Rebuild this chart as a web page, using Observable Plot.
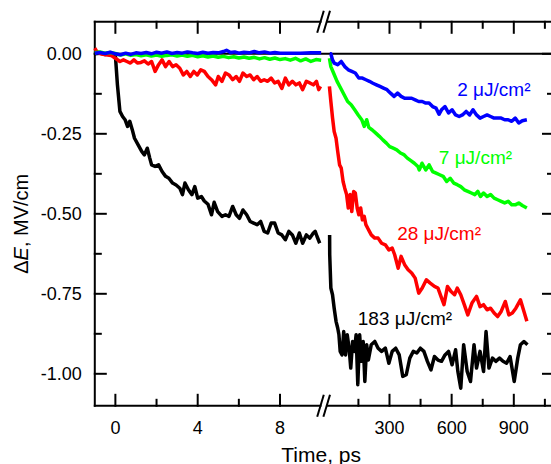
<!DOCTYPE html>
<html><head><meta charset="utf-8">
<script src="https://cdn.jsdelivr.net/npm/d3@7"></script>
<script src="https://cdn.jsdelivr.net/npm/@observablehq/plot@0.6"></script>
<style>body{margin:0;background:#fff}</style>
</head><body><div id="chart"></div>
<script>
// ---- series (fluence labels, colours) ----
const seriesNames = ["183", "28", "7", "2"];
const seriesColors = ["#000000", "#ff0000", "#00ff00", "#0000ff"];
const labelText = ["183 μJ/cm²", "28 μJ/cm²", "7 μJ/cm²", "2 μJ/cm²"];
const labelT = [147, 337, 538, 627];          // ps, right segment
const labelV = [-0.849, -0.583, -0.344, -0.1334];

// ---- left segment (ps, linear 0..10) [t, ΔE] ----
const blackLeft = [[-1,0],[-0.75,0.002],[-0.5,-0.002],[-0.25,0.001],[0,-0.005],[0.1,-0.097],[0.22,-0.18],[0.35,-0.196],[0.47,-0.206],[0.59,-0.227],[0.7,-0.211],[0.82,-0.237],[0.93,-0.264],[1.1,-0.284],[1.28,-0.305],[1.41,-0.316],[1.55,-0.295],[1.67,-0.326],[1.76,-0.347],[1.93,-0.352],[2.1,-0.347],[2.27,-0.368],[2.44,-0.383],[2.6,-0.389],[2.78,-0.404],[2.95,-0.41],[3.13,-0.42],[3.26,-0.44],[3.38,-0.404],[3.55,-0.425],[3.72,-0.44],[3.86,-0.415],[4.0,-0.451],[4.18,-0.446],[4.32,-0.46],[4.5,-0.47],[4.67,-0.503],[4.8,-0.464],[4.97,-0.493],[5.18,-0.508],[5.35,-0.503],[5.52,-0.508],[5.7,-0.477],[5.87,-0.503],[6.03,-0.514],[6.2,-0.488],[6.38,-0.503],[6.55,-0.524],[6.72,-0.529],[6.89,-0.534],[7.06,-0.524],[7.23,-0.555],[7.4,-0.56],[7.57,-0.529],[7.74,-0.529],[7.91,-0.56],[8.09,-0.566],[8.26,-0.581],[8.43,-0.555],[8.6,-0.566],[8.77,-0.592],[8.94,-0.56],[9.1,-0.592],[9.28,-0.566],[9.45,-0.576],[9.62,-0.56],[9.71,-0.555],[9.8,-0.571],[9.93,-0.592]];
const redLeft = [[-1,0.018],[-0.9,0.007],[-0.72,0],[-0.47,-0.003],[-0.21,-0.005],[0,-0.014],[0.22,-0.024],[0.39,-0.019],[0.56,-0.024],[0.73,-0.029],[0.9,-0.019],[1.07,-0.029],[1.24,-0.027],[1.41,-0.022],[1.59,-0.032],[1.76,-0.024],[1.93,-0.055],[2.1,-0.034],[2.27,-0.019],[2.44,-0.04],[2.61,-0.024],[2.78,-0.04],[2.95,-0.034],[3.13,-0.045],[3.3,-0.066],[3.47,-0.055],[3.64,-0.071],[3.81,-0.055],[3.98,-0.066],[4.15,-0.05],[4.32,-0.055],[4.5,-0.071],[4.67,-0.081],[4.87,-0.097],[5.0,-0.071],[5.18,-0.086],[5.35,-0.06],[5.52,-0.066],[5.7,-0.081],[5.87,-0.071],[6.03,-0.086],[6.2,-0.06],[6.38,-0.071],[6.55,-0.066],[6.72,-0.081],[6.89,-0.071],[7.06,-0.086],[7.23,-0.081],[7.4,-0.086],[7.57,-0.076],[7.74,-0.091],[7.91,-0.086],[8.09,-0.108],[8.26,-0.076],[8.43,-0.097],[8.6,-0.086],[8.77,-0.097],[8.94,-0.091],[9.1,-0.112],[9.28,-0.086],[9.45,-0.091],[9.62,-0.097],[9.77,-0.086],[9.88,-0.112],[9.97,-0.102]];
const greenLeft = [[-1,0.003],[-0.75,0.006],[-0.5,0.002],[-0.25,0.004],[0,0.001],[0.25,-0.004],[0.5,0],[0.75,-0.005],[1,-0.002],[1.25,-0.006],[1.5,-0.003],[1.75,-0.007],[2,-0.004],[2.25,-0.008],[2.5,-0.005],[2.75,-0.003],[3,-0.007],[3.25,-0.004],[3.5,-0.008],[3.75,-0.005],[4,-0.009],[4.25,-0.006],[4.5,-0.01],[4.75,-0.007],[5,-0.011],[5.25,-0.008],[5.5,-0.012],[5.75,-0.009],[6,-0.013],[6.25,-0.01],[6.5,-0.014],[6.75,-0.011],[7,-0.016],[7.25,-0.012],[7.5,-0.017],[7.75,-0.013],[8,-0.018],[8.25,-0.015],[8.5,-0.02],[8.75,-0.014],[9,-0.022],[9.25,-0.016],[9.5,-0.024],[9.75,-0.018],[10,-0.02]];
const blueLeft = [[-1,0.002],[-0.75,0.004],[-0.5,0.001],[-0.25,0.005],[0,0],[0.25,-0.003],[0.5,0.002],[0.75,-0.002],[1,0.003],[1.25,0.001],[1.5,0.004],[1.75,0],[2,0.005],[2.25,0.002],[2.5,0.006],[2.75,0.001],[3,0.004],[3.25,0.002],[3.5,0.006],[3.75,0.003],[4,0.001],[4.25,0.005],[4.5,0.002],[4.75,0.004],[5,0.003],[5.25,0.007],[5.4,0.011],[5.6,0.004],[5.8,0.006],[6,0.002],[6.25,0.005],[6.5,0.003],[6.75,0.007],[7,0.003],[7.25,0.006],[7.5,0.002],[7.75,0.004],[8,0.002],[8.5,0.002],[9,0.002],[9.5,0.003],[10,0.003]];

// ---- right segment (ps, compressed 0..1000) [t, ΔE] ----
const blackRight = [[11,-0.566],[11.5,-0.628],[17,-0.732],[25,-0.753],[33,-0.795],[42,-0.836],[50,-0.857],[56,-0.878],[62,-0.93],[71,-0.941],[79,-0.868],[88,-0.941],[96,-0.878],[105,-0.92],[113,-0.982],[122,-0.899],[130,-0.93],[139,-0.878],[147,-1.034],[156,-0.878],[164,-0.961],[173,-0.899],[181,-1.024],[190,-0.909],[198,-0.957],[212,-0.909],[229,-0.899],[245,-0.92],[262,-0.93],[280,-0.92],[297,-0.967],[313,-0.93],[330,-0.92],[347,-0.941],[364,-1.008],[381,-1.003],[398,-0.951],[415,-0.93],[432,-0.935],[449,-0.92],[466,-0.93],[483,-0.961],[500,-0.988],[517,-0.946],[534,-0.957],[551,-0.961],[568,-0.941],[585,-0.93],[602,-0.972],[619,-0.925],[630,-0.993],[644,-1.045],[658,-0.909],[675,-0.993],[691,-1.024],[708,-0.909],[720,-0.982],[737,-0.93],[754,-0.993],[766,-0.868],[780,-0.982],[797,-0.951],[813,-0.961],[831,-0.951],[848,-0.961],[865,-0.967],[882,-0.946],[902,-1.024],[919,-0.951],[932,-0.909],[949,-0.899],[966,-0.909]];
const redRight = [[10,-0.102],[17,-0.149],[25,-0.2],[33,-0.243],[42,-0.264],[50,-0.305],[59,-0.347],[67,-0.357],[76,-0.399],[84,-0.42],[93,-0.44],[101,-0.482],[110,-0.44],[118,-0.493],[127,-0.43],[135,-0.435],[144,-0.482],[152,-0.503],[161,-0.482],[169,-0.519],[178,-0.508],[186,-0.534],[195,-0.545],[203,-0.555],[212,-0.566],[229,-0.576],[245,-0.576],[262,-0.592],[280,-0.597],[297,-0.613],[313,-0.607],[325,-0.628],[342,-0.67],[356,-0.633],[373,-0.659],[390,-0.675],[407,-0.685],[424,-0.701],[441,-0.748],[458,-0.732],[478,-0.706],[495,-0.716],[517,-0.727],[534,-0.732],[551,-0.763],[563,-0.784],[580,-0.727],[597,-0.743],[614,-0.753],[627,-0.732],[644,-0.753],[661,-0.784],[678,-0.816],[698,-0.779],[720,-0.758],[737,-0.79],[754,-0.784],[771,-0.8],[788,-0.795],[805,-0.81],[822,-0.821],[839,-0.805],[859,-0.774],[876,-0.816],[893,-0.81],[910,-0.795],[932,-0.769],[949,-0.805],[963,-0.836]];
const greenRight = [[10,-0.014],[17,-0.04],[30,-0.06],[47,-0.086],[64,-0.107],[81,-0.128],[98,-0.149],[115,-0.159],[132,-0.175],[149,-0.191],[166,-0.206],[178,-0.227],[190,-0.206],[200,-0.23],[217,-0.238],[234,-0.248],[251,-0.258],[268,-0.269],[285,-0.279],[301,-0.29],[318,-0.295],[335,-0.3],[353,-0.31],[369,-0.315],[386,-0.326],[403,-0.334],[420,-0.342],[437,-0.352],[444,-0.363],[457,-0.342],[475,-0.363],[491,-0.347],[508,-0.368],[525,-0.373],[542,-0.378],[559,-0.383],[576,-0.399],[593,-0.389],[610,-0.404],[627,-0.409],[644,-0.415],[661,-0.425],[678,-0.43],[695,-0.435],[712,-0.44],[726,-0.43],[739,-0.446],[754,-0.435],[771,-0.446],[788,-0.44],[805,-0.451],[822,-0.456],[839,-0.461],[856,-0.466],[873,-0.461],[890,-0.472],[907,-0.472],[924,-0.466],[941,-0.474],[963,-0.482]];
const blueRight = [[12,0],[17,0],[25,-0.019],[33,-0.029],[50,-0.034],[67,-0.024],[84,-0.04],[101,-0.05],[118,-0.055],[135,-0.06],[152,-0.076],[169,-0.076],[186,-0.081],[203,-0.086],[220,-0.092],[237,-0.097],[254,-0.102],[271,-0.107],[288,-0.112],[305,-0.123],[322,-0.133],[339,-0.123],[356,-0.133],[373,-0.139],[390,-0.139],[407,-0.139],[424,-0.144],[441,-0.149],[458,-0.149],[475,-0.154],[491,-0.154],[508,-0.165],[525,-0.17],[539,-0.189],[551,-0.175],[568,-0.165],[585,-0.185],[602,-0.175],[619,-0.191],[636,-0.196],[652,-0.191],[670,-0.18],[687,-0.191],[703,-0.175],[720,-0.191],[737,-0.201],[754,-0.196],[771,-0.191],[788,-0.196],[805,-0.201],[822,-0.201],[839,-0.201],[856,-0.206],[873,-0.206],[890,-0.211],[907,-0.201],[924,-0.216],[941,-0.209],[963,-0.206]];

// ---- ticks ----
const yMajor = [0, -0.25, -0.5, -0.75, -1.0];
const yMinor = [-0.125, -0.375, -0.625, -0.875];
const xLeftMajor = [0, 4, 8], xLeftMinor = [2, 6];
const xRightMajor = [300, 600, 900], xRightMinor = [150, 450, 750, 1050];

// ---- broken axis: one linear display coordinate u ----
// left part: u = t (ps); right part: u = BRK + t * RK (compressed ps)
const BRK = 10.3, RK = 0.010068, RMAX = 1094;
const uR = t => BRK + t * RK;
const XMIN = -1, XMAX = uR(RMAX), YMIN = -1.1, YMAX = 0.1;
const xDomain = [XMIN, XMAX], xRange = [94.3, 553.5];
const yDomain = [YMIN, YMAX], yRange = [405.3, 21.3];
const XS = d3.scaleLinear().domain(xDomain).range(xRange);
const YS = d3.scaleLinear().domain(yDomain).range(yRange);

const leftSets = [blackLeft, redLeft, greenLeft, blueLeft];
const rightSets = [blackRight, redRight, greenRight, blueRight];
const rows = [];
seriesNames.forEach((s, i) => {
  leftSets[i].forEach(([t, v]) => rows.push({u: t, v, s, key: s + "L"}));
  rightSets[i].forEach(([t, v]) => rows.push({u: uR(t), v, s, key: s + "R"}));
});
const labels = labelText.map((txt, i) => ({txt, u: uR(labelT[i]), v: labelV[i], s: seriesNames[i]}));

// frame, zero line and inward tick segments, all in one link mark
const dvMaj = 11 / 320, dvMin = 6 / 320;
const duMaj = XS.invert(XS(0) + 11), duMin = XS.invert(XS(0) + 6);
const allXMajor = [...xLeftMajor, ...xRightMajor.map(uR)];
const allXMinor = [...xLeftMinor, ...xRightMinor.map(uR)];
const gapL = XS.invert(320), gapR = XS.invert(326.85);
const axisSegs = [
  {x1: XMIN, x2: XMIN, y1: YMIN, y2: YMAX},
  {x1: XMIN, x2: gapL, y1: YMAX, y2: YMAX},
  {x1: gapR, x2: XMAX, y1: YMAX, y2: YMAX},
  {x1: XMIN, x2: gapL, y1: YMIN, y2: YMIN},
  {x1: gapR, x2: XMAX, y1: YMIN, y2: YMIN},
  {x1: XMIN, x2: XMAX, y1: 0, y2: 0}
];
yMajor.forEach(v => {
  axisSegs.push({x1: XMIN, x2: XMIN + duMaj, y1: v, y2: v});
  axisSegs.push({x1: XMAX - duMaj, x2: XMAX, y1: v, y2: v});
});
yMinor.forEach(v => {
  axisSegs.push({x1: XMIN, x2: XMIN + duMin, y1: v, y2: v});
  axisSegs.push({x1: XMAX - duMin, x2: XMAX, y1: v, y2: v});
});
allXMajor.forEach(u => {
  axisSegs.push({x1: u, x2: u, y1: YMIN, y2: YMIN + dvMaj});
  axisSegs.push({x1: u, x2: u, y1: YMAX, y2: YMAX - dvMaj});
});
allXMinor.forEach(u => {
  axisSegs.push({x1: u, x2: u, y1: YMIN, y2: YMIN + dvMin});
  axisSegs.push({x1: u, x2: u, y1: YMAX, y2: YMAX - dvMin});
});
const slashes = [];
[YMAX, YMIN].forEach(yv => {
  [[316.7, 323.3], [322.9, 329.5]].forEach(([a, b]) => {
    slashes.push({x1: XS.invert(a), x2: XS.invert(b), y1: YS.invert(YS(yv) + 11), y2: YS.invert(YS(yv) - 11)});
  });
});

const sw = 2;
const plot = Plot.plot({
  width: 551, height: 464,
  marginLeft: 94.3, marginRight: 0, marginTop: 21.3, marginBottom: 58.7,
  style: {fontFamily: "'Liberation Sans', Arial, sans-serif", fontSize: "18px", background: "#fff", color: "#000"},
  x: {domain: xDomain, range: xRange},
  y: {domain: yDomain, range: yRange},
  color: {domain: seriesNames, range: seriesColors},
  marks: [
    Plot.link(axisSegs, {x1: "x1", x2: "x2", y1: "y1", y2: "y2", stroke: "#000", strokeWidth: sw, strokeLinecap: "square"}),
    Plot.link(slashes, {x1: "x1", x2: "x2", y1: "y1", y2: "y2", stroke: "#000", strokeWidth: sw}),
    // axis labels
    Plot.axisY({ticks: yMajor, tickSize: 0, tickPadding: 13, tickFormat: d => d.toFixed(2), label: null, fontSize: 18}),
    Plot.axisX({ticks: allXMajor, tickSize: 0, tickPadding: 15, tickFormat: u => u > BRK ? String(Math.round((u - BRK) / RK)) : String(u), label: null, fontSize: 18}),
    // data
    Plot.line(rows, {x: "u", y: "v", z: "key", stroke: "s", strokeWidth: 3.5, strokeLinejoin: "round", strokeLinecap: "butt"}),
    Plot.text(labels, {x: "u", y: "v", text: "txt", fill: "s", textAnchor: "start", lineAnchor: "bottom", fontSize: 19}),
    Plot.text(["ΔE, MV/cm"], {frameAnchor: "left", textAnchor: "middle", dx: -73, dy: 10, rotate: -90, lineAnchor: "middle", fontSize: 20}),
    Plot.text(["Time, ps"], {x: [10], frameAnchor: "bottom", dy: 56.4, lineAnchor: "bottom", fontSize: 21})
  ]
});
// italic E in the y-axis title
d3.select(plot).selectAll("text").each(function() {
  if (this.textContent === "ΔE, MV/cm") {
    const t = d3.select(this);
    t.text(null);
    t.append("tspan").text("Δ");
    t.append("tspan").attr("font-style", "italic").text("E");
    t.append("tspan").text(", MV/cm");
  }
});
document.getElementById("chart").appendChild(plot);
</script>
</body></html>
